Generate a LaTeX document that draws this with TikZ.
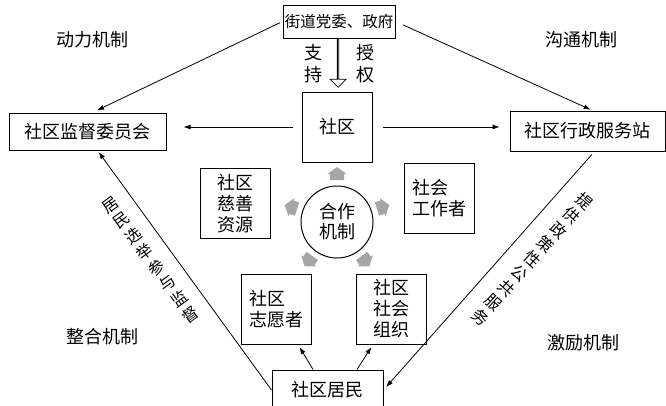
\documentclass[tikz,border=0pt]{standalone}
\usepackage{fontspec}
\setmainfont{Noto Sans CJK SC}
\usepackage{tikz}
\usetikzlibrary{arrows.meta, positioning, shapes.arrows}
\tikzset{%
	every box/.style={
		draw,
		line width=1pt,
		inner sep=0pt,
		font=\fontsize{18}{21}\selectfont
	},
	square box/.style={
		every box,
		minimum width=70pt,
		minimum height=70pt,
		align=left
	},
	mech label/.style={
		font=\fontsize{18}{21}\selectfont
	},
	side text/.style={
		align=center,
		inner sep=0pt,
		font=\fontsize{16}{19.5}\selectfont
	},
	hollow arrow/.style={
		single arrow,
		draw,
		fill=white,
		line width=0.8pt,
		inner sep=0pt,
		minimum width=16pt,
		minimum height=49pt,
		single arrow head extend=4pt
	},
	petal/.style={
		fill=gray!70
	},
}

\begin{document}
\begin{tikzpicture}[
			x=1pt, y=-1pt,
			line width=0.8pt,
			>={Latex[length=7pt, width=5pt]}
			]
			\useasboundingbox (0,0) rectangle (666,405);
			
			% Boxes
			\node[every box, minimum width=112pt, minimum height=33pt, font=\fontsize{15.5}{18}\selectfont] (gov) at (339,21.5) {街道党委、政府};
			\node[square box] (sq) at (337,127) {社区};
			\node[every box, minimum width=157pt, minimum height=37pt] (jd) at (87.5,131.5) {社区监督委员会};
			\node[every box, minimum width=155pt, minimum height=40pt] (xz) at (587.5,131) {社区行政服务站};
			\node[every box, minimum width=111pt, minimum height=40pt] (jm) at (327.5,390) {社区居民};
			
			\node[circle, draw, line width=1pt, minimum size=72pt, inner sep=0pt, align=center, font=\fontsize{18}{20}\selectfont] (hz) at (337,222) {合作\\机制};
			\node[square box] (cs) at (235.5,203.5) {社区\\慈善\\资源};
			\node[square box] (sg) at (439,198) {社会\\工作者};
			\node[square box] (zy) at (276,309) {社区\\志愿者};
			\node[square box] (zz) at (391.5,309) {社区\\社会\\组织};
			
			% Grey arrows round the circle
			\foreach \a in {18,90,162,234,306}{
				\begin{scope}[shift={(hz.center)}, rotate=\a]
					\fill[petal] (42,-7) -- (48,-7) -- (48,-9.5) -- (55,0) -- (48,9.5) -- (48,7) -- (42,7) -- cycle;
				\end{scope}
			}
			
			% Support and authority
			\path (gov.south) -- node[pos=0.45, hollow arrow, rotate=-90] (sa) {} (sq.north);
			\node[side text, font=\fontsize{18}{22}\selectfont] (zc) at (313,64) {支\\持};
			\node[side text, font=\fontsize{18}{22}\selectfont] (sq2) at (365,64) {授\\权};
			
			% Connectors
			\draw[->, shorten <=3pt, shorten >=5pt] (gov.west) -- ([xshift=5pt]jd.north);
			\draw[->, shorten <=8pt, shorten >=2pt] (gov.east) -- ([xshift=5pt]xz.north);
			\draw[->, shorten <=9pt, shorten >=17pt] (sq.west) -- (sq.west -| jd.east);
			\draw[->, shorten <=10pt, shorten >=10pt] (sq.east) -- (sq.east -| xz.west);
			\draw[->, shorten >=2pt] (jm.west) -- ([xshift=10pt]jd.south);
			\draw[->, shorten <=4pt, shorten >=4pt] ([xshift=7pt]xz.south) -- (jm.east);
			\draw[->, shorten >=3pt] ([xshift=-14.5pt]jm.north) -- ([xshift=22pt]zy.south);
			\draw[->, shorten >=3pt] ([xshift=29.5pt]jm.north) -- ([xshift=-18.5pt]zz.south);
			
			% Labels along the lines
			\node[side text, rotate=36] (xj) at (150.5,260) {居\\民\\选\\举\\参\\与\\监\\督};
			\node[side text, rotate=-42] (tg) at (532.5,259) {提\\供\\政\\策\\性\\公\\共\\服\\务};
			
			% Mechanisms
			\node[mech label] (dl) at (92.5,40) {动力机制};
			\node[mech label] (gt) at (581.5,40) {沟通机制};
			\node[mech label] (zh) at (102,337) {整合机制};
			\node[mech label] (jl) at (583,343) {激励机制};
			
		\end{tikzpicture}
\end{document}
